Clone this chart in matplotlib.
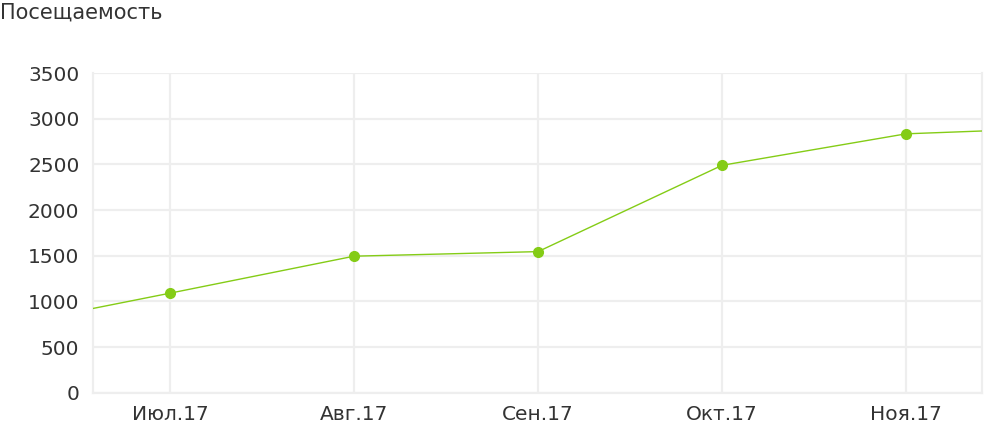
import matplotlib.pyplot as plt

# months shown on the axis; the line runs in from June and out to December
months = ['Июл.17', 'Авг.17', 'Сен.17', 'Окт.17', 'Ноя.17']
visits = [1090, 1495, 1545, 2490, 2835]
visit_before = 690   # Июн.17, off the left edge
visit_after = 2910   # Дек.17, off the right edge
y_ticks = [0, 500, 1000, 1500, 2000, 2500, 3000, 3500]

text_color = '#333333'
grid_color = '#eeeeee'
line_color = '#84cc16'

fig = plt.figure(figsize=(9.84, 4.25), dpi=100)
ax = fig.add_axes([0.0948, 0.076, 0.9032, 0.752])

xs = list(range(len(months)))
ax.plot([-1] + xs + [len(months)], [visit_before] + visits + [visit_after],
        color=line_color, linewidth=1, zorder=3)
ax.plot(xs, visits, 'o', color=line_color, markersize=7, zorder=4)

ax.set_xlim(-0.417, 4.413)
ax.set_ylim(0, 3500)
ax.set_xticks(xs)
ax.set_xticklabels(months)
ax.set_yticks(y_ticks)

ax.grid(True, color=grid_color, linewidth=1.6)
ax.set_axisbelow(True)
for side in ['left', 'right', 'top', 'bottom']:
    ax.spines[side].set_color(grid_color)
    ax.spines[side].set_linewidth(1.6)
ax.spines['top'].set_visible(False)

ax.tick_params(length=0, labelsize=14.5, colors=text_color)
ax.tick_params(axis='y', pad=10)
ax.tick_params(axis='x', pad=9)

fig.text(0.0, 0.995, 'Посещаемость', fontsize=15, color=text_color,
         ha='left', va='top')

fig.savefig('out.png', dpi=100)
